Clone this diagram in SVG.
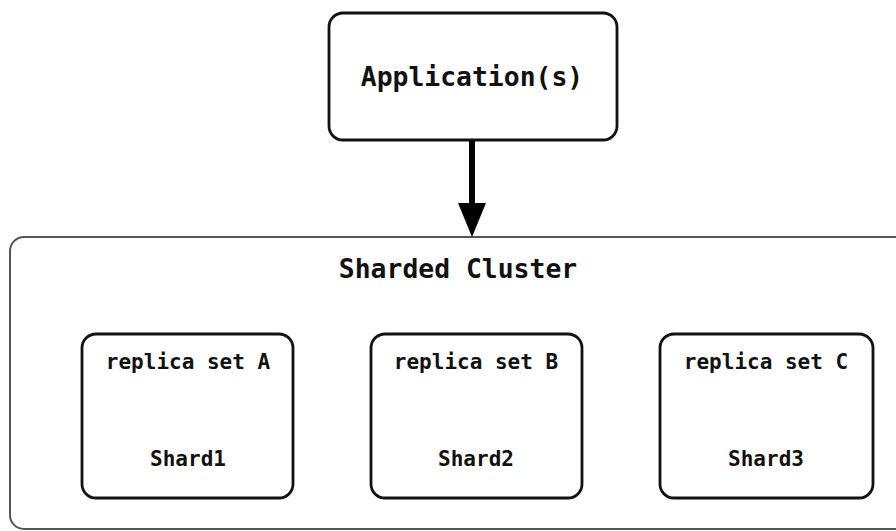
<svg xmlns="http://www.w3.org/2000/svg" width="896" height="531" viewBox="0 0 896 531">
<defs>
<style>
.box{fill:#fff;stroke:#111;stroke-width:2.8}
.outer{fill:#fff;stroke:#555;stroke-width:2}
.t{font-family:"DejaVu Sans Mono","Liberation Mono",monospace;font-weight:bold;fill:#111;text-anchor:middle}
.big{font-size:26.4px}
.sm{font-size:21px}
</style>
</defs>
<rect width="896" height="531" fill="#fff"/>
<g id="cluster">
<rect class="outer" x="10" y="237" width="900" height="292" rx="14"/>
<text class="t big" x="458" y="278">Sharded Cluster</text>
</g>
<g id="app">
<rect class="box" x="329" y="13" width="288" height="127" rx="14"/>
<text class="t big" x="472" y="86">Application(s)</text>
</g>
<g id="rsA">
<rect class="box" x="82" y="334" width="211" height="164" rx="14"/>
<text class="t sm" x="188" y="369">replica set A</text>
<text class="t sm" x="188" y="466">Shard1</text>
</g>
<g id="rsB">
<rect class="box" x="371" y="334" width="211" height="164" rx="14"/>
<text class="t sm" x="476" y="369">replica set B</text>
<text class="t sm" x="476" y="466">Shard2</text>
</g>
<g id="rsC">
<rect class="box" x="660" y="334" width="213" height="164" rx="14"/>
<text class="t sm" x="766" y="369">replica set C</text>
<text class="t sm" x="766" y="466">Shard3</text>
</g>
<g id="connectors">
<line x1="472" y1="140" x2="472" y2="206" stroke="#000" stroke-width="6"/>
<path d="M458,203 L486,203 L472,237 Z" fill="#000"/>
</g>
</svg>
